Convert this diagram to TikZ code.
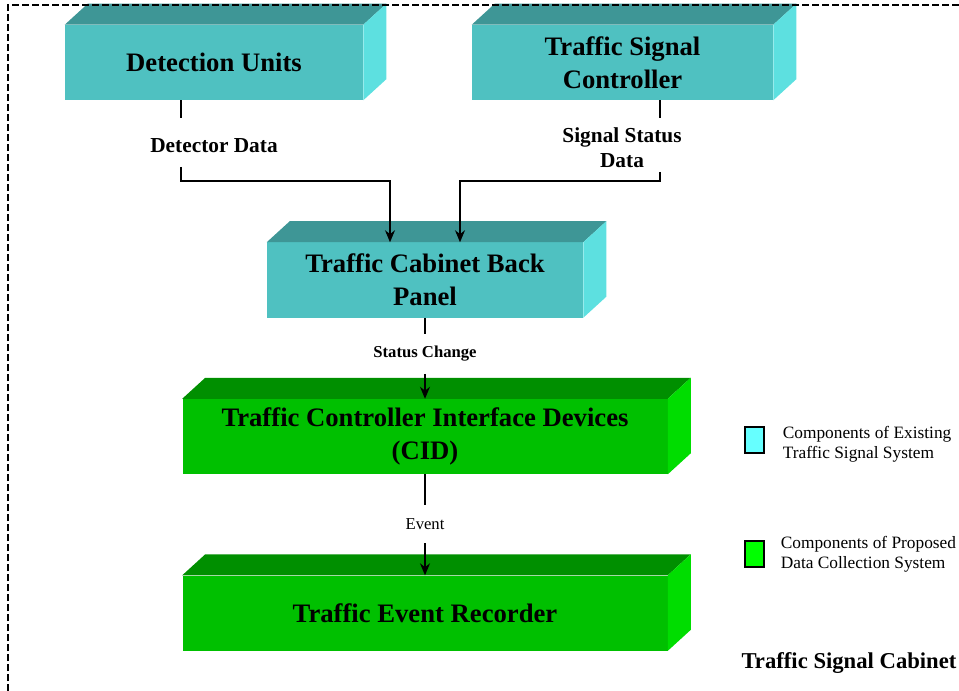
\documentclass[tikz,border=0pt]{standalone}
\usepackage{fontspec}
\setmainfont{Liberation Serif}
\usetikzlibrary{arrows.meta,positioning}
\definecolor{tealfront}{HTML}{4FC1C1}
\definecolor{tealtop}{HTML}{3E9696}
\definecolor{tealside}{HTML}{5DE0E0}
\definecolor{greenfront}{HTML}{00C000}
\definecolor{greentop}{HTML}{008F00}
\definecolor{greenside}{HTML}{00DD00}
\definecolor{keycyan}{HTML}{66FFFF}
\definecolor{keygreen}{HTML}{00FF00}
% top and right faces of a slab node
\newcommand{\slabfaces}[3]{%
  \fill[#2] (#1.north west) -- ++(23,-21) -- ([shift={(23,-21)}]#1.north east) -- (#1.north east) -- cycle;
  \fill[#3] (#1.north east) -- ++(23,-21) -- ([shift={(23,-21)}]#1.south east) -- (#1.south east) -- cycle;}

\begin{document}
\begin{tikzpicture}[x=0.75pt,y=-0.75pt,
  slab/.style={inner sep=0pt,minimum height=56.25pt,align=center,font=\bfseries\fontsize{20}{24.5}\selectfont},
  lab/.style={inner sep=0pt,align=center,font=\bfseries\fontsize{16}{19}\selectfont},
  keybox/.style={draw,thick,minimum width=14.25pt,minimum height=19.5pt,inner sep=0pt},
  keytext/.style={inner sep=0pt,align=left,font=\fontsize{13}{15}\selectfont},
  wire/.style={line width=1pt},
  arr/.style={wire,-{Stealth[length=9pt,width=7.5pt]}}]
\useasboundingbox (0,0) rectangle (959,691);

\node[slab,fill=tealfront,minimum width=223.5pt] (du) at (214,62.5) {Detection Units};
\node[slab,fill=tealfront,minimum width=225.75pt] (tsc) at (622.5,62.5) {Traffic Signal\\Controller};
\node[slab,fill=tealfront,minimum width=237pt] (bp) at (425,280) {Traffic Cabinet Back\\Panel};
\node[slab,fill=greenfront,minimum width=363.75pt,below=60.75pt of bp] (cid) {Traffic Controller Interface Devices\\(CID)};
\node[slab,fill=greenfront,minimum width=363.75pt,below=75.75pt of cid] (ter) {Traffic Event Recorder};
\slabfaces{du}{tealtop}{tealside}
\slabfaces{tsc}{tealtop}{tealside}
\slabfaces{bp}{tealtop}{tealside}
\slabfaces{cid}{greentop}{greenside}
\slabfaces{ter}{greentop}{greenside}

\node[lab] (ddlab) at (214,146) {Detector Data};
\node[lab] (sslab) at (622,148) {Signal Status\\Data};
\node[lab,font=\bfseries\fontsize{12.5}{15}\selectfont] (sclab) at (425,354) {Status Change};
\node[lab,font=\fontsize{12.5}{15}\selectfont] (evlab) at (425,524) {Event};

\coordinate (ddtop) at (181,118);
\coordinate (ddbot) at (181,167);
\coordinate (ddbend) at (390,181);
\coordinate (sstop) at (660,118);
\coordinate (ssbot) at (660,172);
\coordinate (ssbend) at (460,181);
\draw[wire] (du.south -| ddtop) -- (ddtop);
\draw[arr] (ddbot) |- (ddbend) -- (ddbend |- bp.north);
\draw[wire] (tsc.south -| sstop) -- (sstop);
\draw[arr] (ssbot) |- (ssbend) -- (ssbend |- bp.north);
\draw[wire] (bp.south) -- ([yshift=9pt]sclab.north);
\draw[arr] ([yshift=-9pt]sclab.south) -- (cid.north);
\draw[wire] (cid.south) -- ([yshift=10pt]evlab.north);
\draw[arr] ([yshift=-10pt]evlab.south) -- (ter.north);

\node[keybox,fill=keycyan] (kold) at (754.5,440) {};
\node[keytext,right=13.5pt of kold,yshift=-3pt] (koldtxt) {Components of Existing\\Traffic Signal System};
\node[keybox,fill=keygreen] (knew) at (754.5,554) {};
\node[keytext,right=12pt of knew] (knewtxt) {Components of Proposed\\Data Collection System};
\node[inner sep=0pt,font=\bfseries\fontsize{17}{20}\selectfont] (cabinet) at (849,663) {Traffic Signal Cabinet};

\draw[line width=0.8pt,dash pattern=on 5pt off 2.5pt] (8,691) -- (8,5) -- (959,5);
\end{tikzpicture}
\end{document}
